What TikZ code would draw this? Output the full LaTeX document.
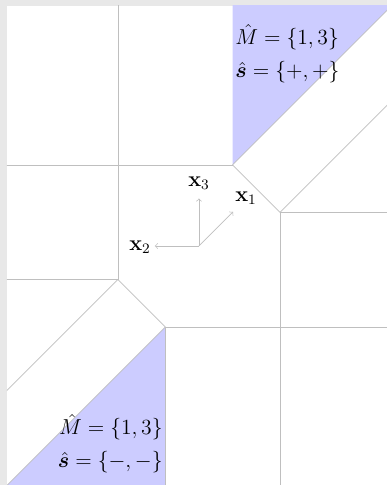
\documentclass[tikz,border=0pt]{standalone}
\usepackage{amsmath,bm}
\begin{document}
\begin{tikzpicture}[
		edge/.style={black!25},
		region/.style={fill=blue!20},
		lbl/.style={font=\large, scale=1.08, inner sep=1pt}]
		% frame
		\fill[black!9] (-4.189,-5.032) rectangle (3.958,5.179);
		\fill[white] (-4.042,-5.032) rectangle (3.958,5.053);
		\useasboundingbox (-4.189,-5.032) rectangle (3.958,5.179);
		
		\coordinate (o) at (0,0);
		\coordinate (a) at (0.707,1.707);
		\coordinate (b) at (1.707,0.707);
		\coordinate (c) at (-1.707,-0.707);
		\coordinate (d) at (-0.707,-1.707);
		
		\begin{scope}
			\clip (-4.042,-5.032) rectangle (3.958,5.053);
			% shaded cells
			\fill[region] (a) -- (0.707,5.2) -- (4.2,5.2) -- cycle;
			\fill[region] (d) -- (-0.707,-5.2) -- (-4.2,-5.2) -- cycle;
			% upper half
			\draw[edge] (a) -- ++(4,4);
			\draw[edge] (b) -- ++(4,4);
			\draw[edge] (a) -- (b);
			\draw[edge] (a) -- (-4.2,1.707);
			\draw[edge] (c) -- (-1.707,5.2);
			\draw[edge] (b) -- (4.2,0.707);
			\draw[edge] (b) -- (1.707,-5.2);
			% lower half
			\draw[edge] (d) -- ++(-4,-4);
			\draw[edge] (c) -- ++(-4,-4);
			\draw[edge] (c) -- (d);
			\draw[edge] (c) -- (-4.2,-0.707);
			\draw[edge] (d) -- (4.2,-1.707);
			\draw[edge] (d) -- (-0.707,-5.2);
		\end{scope}
		
		% axes
		\coordinate (e1) at (0.72,0.72);
		\coordinate (e2) at (-0.93,0);
		\coordinate (e3) at (0,1.0);
		\draw[edge, ->] (o) -- (e1);
		\draw[edge, ->] (o) -- (e2);
		\draw[edge, ->] (o) -- (e3);
		\node[lbl] (x1) at (0.99,1.01) {$\mathbf{x}_1$};
		\node[lbl] (x2) at (-1.24,-0.02) {$\mathbf{x}_2$};
		\node[lbl] (x3) at (0,1.33) {$\mathbf{x}_3$};
		
		% labels
		\node[lbl, anchor=west] (mtop) at (0.72,4.40) {$\hat M = \{1,3\}$};
		\node[lbl, anchor=west] (stop) at (0.72,3.66) {$\hat{\bm s} = \{+,+\}$};
		\node[lbl, anchor=east] (mbot) at (-0.72,-3.81) {$\hat M = \{1,3\}$};
		\node[lbl, anchor=east] (sbot) at (-0.72,-4.55) {$\hat{\bm s} = \{-,-\}$};
	\end{tikzpicture}
\end{document}
